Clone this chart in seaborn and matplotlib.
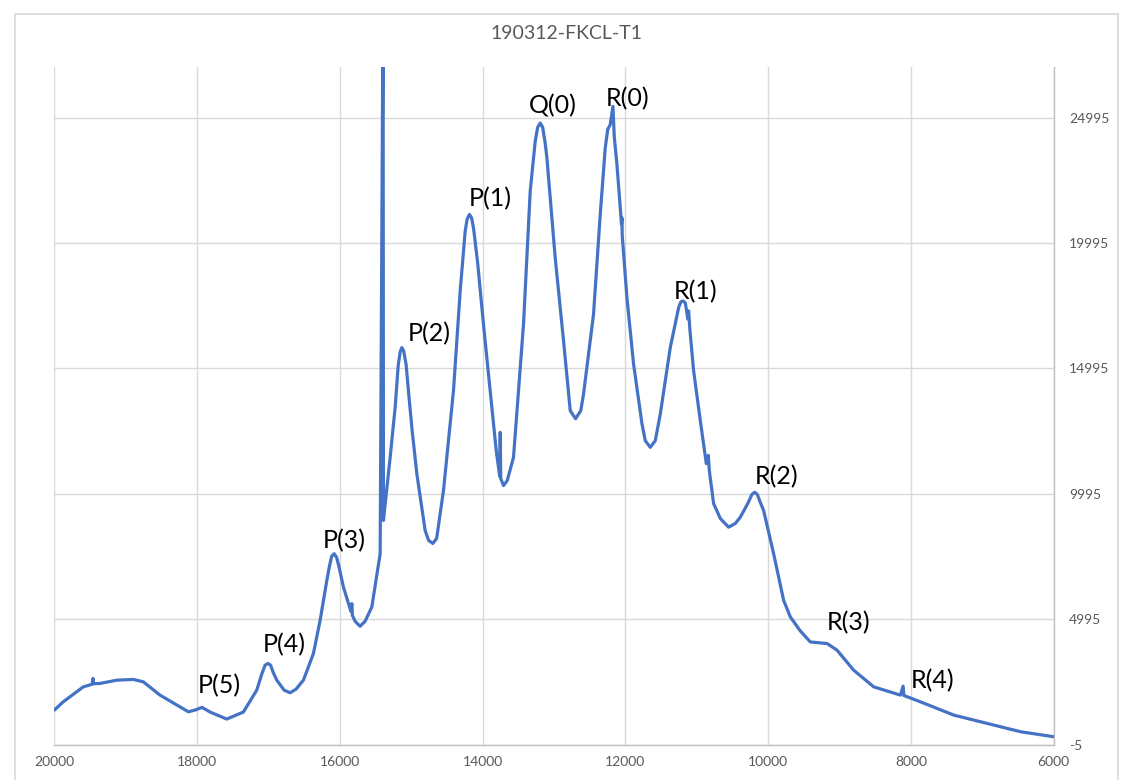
import matplotlib
matplotlib.use("Agg")
import matplotlib.pyplot as plt
import seaborn as sns
import pandas as pd
from matplotlib.patches import Rectangle

# spectrum values
wavenumber = [
    20000, 19875, 19595, 19470, 19459, 19450, 19361, 19127, 18894, 18754,
    18520, 18286, 18123, 18029, 17931, 17819, 17585, 17352, 17165, 17090,
    17048, 17010, 16971, 16936, 16884, 16782, 16698, 16614, 16511, 16371,
    16277, 16183, 16144, 16116, 16081, 16046, 16011, 15951, 15845, 15833,
    15825, 15787, 15717, 15647, 15553, 15436, 15395, 15390, 15296, 15226,
    15184, 15156, 15132, 15107, 15072, 15040, 14988, 14922, 14806, 14757,
    14698, 14645, 14549, 14409, 14315, 14245, 14217, 14185, 14154, 14126,
    14070, 13989, 13871, 13810, 13761, 13754, 13747, 13708, 13656, 13568,
    13428, 13376, 13334, 13264, 13229, 13194, 13159, 13124, 13100, 12984,
    12867, 12773, 12699, 12626, 12587, 12447, 12353, 12283, 12248, 12213,
    12175, 12157, 12119, 12055, 12049, 12045, 11979, 11886, 11768, 11722,
    11652, 11582, 11512, 11372, 11255, 11224, 11194, 11161, 11126, 11115,
    11098, 11045, 10951, 10867, 10839, 10825, 10765, 10671, 10555, 10461,
    10391, 10279, 10229, 10190, 10152, 10110, 10064, 9924, 9784, 9690,
    9550, 9410, 9175, 9035, 8803, 8522, 8148, 8110, 8100, 7868,
    7401, 6933, 6464, 6000,
]
intensity = [
    1370, 1700, 2295, 2400, 2630, 2420, 2430, 2560, 2590, 2495,
    1965, 1570, 1300, 1370, 1476, 1290, 1010, 1290, 2164, 2841,
    3159, 3227, 3159, 2880, 2562, 2164, 2057, 2204, 2562, 3625,
    4950, 6542, 7139, 7497, 7605, 7458, 7060, 6276, 5300, 5615,
    5150, 4910, 4711, 4910, 5479, 7605, 30000, 8930, 11450, 13440,
    15099, 15656, 15827, 15696, 15139, 14104, 12512, 10789, 8532, 8134,
    8015, 8214, 10124, 14104, 18084, 20472, 20950, 21137, 20990, 20552,
    19199, 16759, 13440, 11716, 10682, 12444, 10602, 10323, 10522, 11450,
    16759, 19676, 22064, 24054, 24611, 24782, 24611, 23975, 23390, 19410,
    16094, 13308, 12990, 13308, 13973, 17157, 21137, 23787, 24532, 24719,
    25447, 24253, 23127, 20750, 21000, 20300, 17817, 15167, 12779, 12114,
    11848, 12114, 13177, 15827, 17420, 17646, 17686, 17606, 16970, 17288,
    16572, 14900, 12910, 11199, 11527, 10920, 9607, 9010, 8663, 8811,
    9061, 9647, 9965, 10057, 9965, 9647, 9328, 7605, 5746, 5082,
    4524, 4086, 4023, 3756, 2960, 2295, 1965, 2323, 1950, 1698,
    1169, 839, 504, 305,
]

peak_labels = ["P(5)", "P(4)", "P(3)", "P(2)", "P(1)", "Q(0)",
               "R(0)", "R(1)", "R(2)", "R(3)", "R(4)"]
label_x = [17693, 16782, 15941, 14750, 13895, 13012,
           11975, 11022, 9887, 8878, 7700]
label_y = [2323, 3995, 8134, 16374, 21786, 25487,
           25766, 18044, 10680, 4871, 2562]

y_ticks = [-5, 4995, 9995, 14995, 19995, 24995]
x_ticks = [20000, 18000, 16000, 14000, 12000, 10000, 8000, 6000]

df = pd.DataFrame({"wavenumber": wavenumber, "intensity": intensity})

sns.set_style("white")
plt.rcParams["font.family"] = ["Lato", "DejaVu Sans"]

fig = plt.figure(figsize=(11.21, 7.80), dpi=100)
ax = fig.add_axes([0.0485, 0.0455, 0.8915, 0.869])

sns.lineplot(data=df, x="wavenumber", y="intensity", sort=False,
             estimator=None, color="#4472C4", linewidth=2.3, ax=ax)

ax.set_xlim(20000, 6000)
ax.set_ylim(-5, 27030)
ax.set_xticks(x_ticks)
ax.set_yticks(y_ticks)
ax.set_xticklabels([str(v) for v in x_ticks])
ax.set_yticklabels([str(v) for v in y_ticks])
ax.yaxis.tick_right()
ax.set_xlabel("")
ax.set_ylabel("")

ax.grid(True, color="#d9d9d9", linewidth=1)
ax.set_axisbelow(True)
for side in ["top", "left"]:
    ax.spines[side].set_visible(False)
for side in ["bottom", "right"]:
    ax.spines[side].set_color("#bfbfbf")
    ax.spines[side].set_linewidth(1)
ax.tick_params(axis="both", length=0, labelsize=10, labelcolor="#595959")
ax.tick_params(axis="x", pad=8)
ax.tick_params(axis="y", pad=11)

for t, x, y in zip(peak_labels, label_x, label_y):
    ax.text(x, y, t, ha="center", va="center", fontsize=18, color="black")

fig.text(0.505, 0.957, "190312-FKCL-T1", ha="center", va="center",
         fontsize=14, color="#595959")

# chart area border
fig.patches.append(Rectangle((15 / 1121, -0.01), 1103 / 1121, 0.9823 + 0.01,
                             transform=fig.transFigure, fill=False,
                             edgecolor="#d9d9d9", linewidth=1.2))

plt.savefig("out.png", dpi=100)
plt.close()
